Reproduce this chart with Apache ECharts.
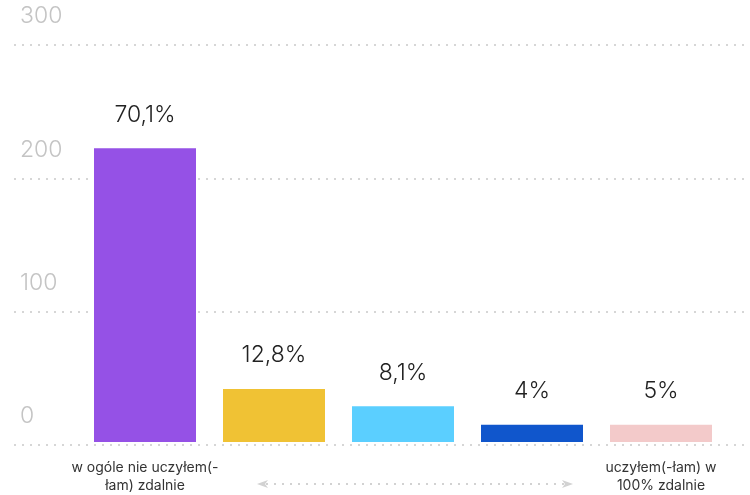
<!DOCTYPE html>
<html>
<head>
<meta charset="utf-8">
<script src="https://cdn.jsdelivr.net/npm/echarts@6/dist/echarts.min.js"></script>
<style>
  html, body { margin: 0; padding: 0; background: #fff; }
  #chart { width: 750px; height: 495px; }
</style>
</head>
<body>
<div id="chart"></div>
<script>
// skala 1..5, podpisy tylko na krańcach
var categories = ['1', '2', '3', '4', '5'];
var tickLabels = ['w ogóle nie uczyłem(-\nłam) zdalnie', '', '', '', 'uczyłem(-łam) w\n100% zdalnie'];
var values = [222, 40, 27, 13, 13];
var percentLabels = ['70,1%', '12,8%', '8,1%', '4%', '5%'];
var barColors = ['#9551e6', '#f0c234', '#5bcfff', '#1056cc', '#f3caca'];
var yTicks = [0, 100, 200, 300];

var font = 'Inter, "Noto Sans", sans-serif';

var chart = echarts.init(document.getElementById('chart'));

var option = {
    animation: false,
    grid: [
        // siatka na całą szerokość (linie kropkowane + opisy osi y)
        { left: 14, right: 0, top: 45, bottom: 50 },
        // słupki
        { left: 80.5, right: 24.5, top: 45, bottom: 50 }
    ],
    xAxis: [
        { gridIndex: 0, type: 'value', show: false },
        {
            gridIndex: 1,
            type: 'category',
            data: categories,
            axisLine: { show: false },
            axisTick: { show: false },
            axisLabel: {
                interval: 0,
                margin: 17,
                color: '#333',
                fontSize: 14,
                lineHeight: 18,
                fontFamily: font,
                formatter: function (v, i) { return tickLabels[i]; }
            }
        }
    ],
    yAxis: [
        {
            gridIndex: 0,
            type: 'value',
            min: yTicks[0],
            max: yTicks[yTicks.length - 1],
            interval: 100,
            axisLine: { show: false },
            axisTick: { show: false },
            axisLabel: {
                inside: true,
                margin: 6,
                align: 'left',
                verticalAlign: 'bottom',
                padding: [0, 0, 17, 0],
                color: '#c4c4c4',
                fontSize: 23,
                fontWeight: 300,
                fontFamily: font
            },
            splitLine: {
                lineStyle: { color: '#d6d6d6', width: 2, type: [2, 6] }
            }
        },
        {
            gridIndex: 1,
            type: 'value',
            min: yTicks[0],
            max: yTicks[yTicks.length - 1],
            show: false,
            splitLine: { show: false }
        }
    ],
    series: [{
        type: 'bar',
        xAxisIndex: 1,
        yAxisIndex: 1,
        barWidth: 102,
        data: values.map(function (v, i) {
            return { value: v, itemStyle: { color: barColors[i] } };
        }),
        label: {
            show: true,
            position: 'top',
            distance: 22,
            color: '#222',
            fontSize: 23,
            fontWeight: 300,
            fontFamily: font,
            formatter: function (p) { return percentLabels[p.dataIndex]; }
        }
    }],
    graphic: [{
        type: 'group',
        children: [
            {
                type: 'line',
                shape: { x1: 266, y1: 484, x2: 564, y2: 484 },
                style: { stroke: '#d2d2d2', lineWidth: 2, lineDash: [2, 6] }
            },
            {
                type: 'polygon',
                shape: { points: [[257, 484], [268, 480], [265, 484], [268, 488]] },
                style: { fill: '#d2d2d2' }
            },
            {
                type: 'polygon',
                shape: { points: [[573, 484], [562, 480], [565, 484], [562, 488]] },
                style: { fill: '#d2d2d2' }
            }
        ]
    }]
};

chart.setOption(option);
</script>
</body>
</html>
